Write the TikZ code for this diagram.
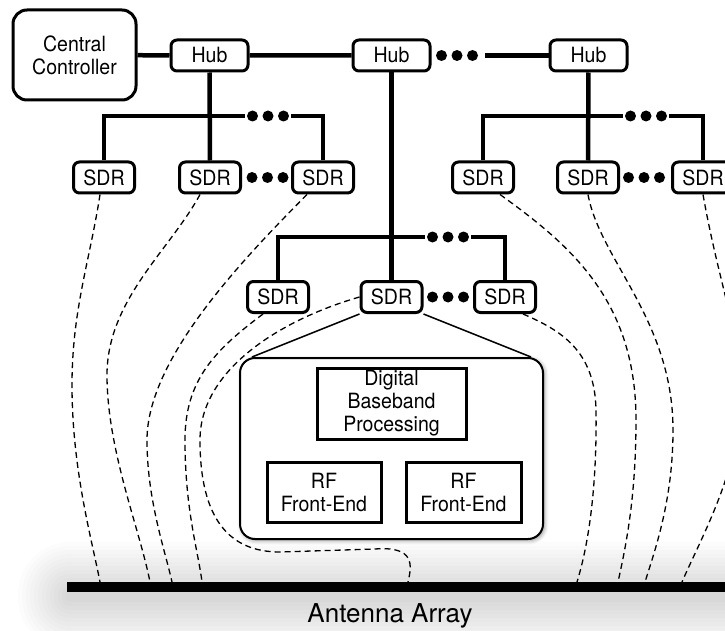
\documentclass[tikz,border=0pt]{standalone}
\usepackage{fontspec}
\setmainfont{TeX Gyre Heros}
\newfontfamily\boxfont[FakeStretch=0.93]{TeX Gyre Heros}
\usepackage{tikz}
\usetikzlibrary{positioning, shadows.blur}

\begin{document}
\begin{tikzpicture}[x=1pt, y=-1pt,
  % align=center so that \\ breaks lines inside the boxes
  ctrlbox/.style={rectangle, draw, line width=3pt, rounded corners=14pt, fill=white,
                  minimum width=123pt, minimum height=90pt, inner sep=0pt,
                  align=center, font=\boxfont\fontsize{21}{23}\selectfont},
  unitbox/.style={rectangle, draw, line width=3pt, rounded corners=6pt, fill=white,
                  minimum width=#1, minimum height=31pt, inner sep=0pt,
                  align=center, font=\boxfont\fontsize{21}{23}\selectfont},
  detailbox/.style={rectangle, draw, line width=2pt, rounded corners=15pt, fill=white,
                    minimum width=303pt, minimum height=181pt,
                    blur shadow={shadow xshift=1.5pt, shadow yshift=-1.5pt,
                                 shadow blur radius=4pt, shadow opacity=45}},
  blockbox/.style={rectangle, draw, line width=3pt, fill=white, inner sep=0pt,
                   minimum width=#1, align=center, font=\boxfont\fontsize{21}{23}\selectfont},
  ellip/.style={minimum width=#1, minimum height=12pt, inner sep=0pt,
                path picture={\fill ([xshift=-15.5pt]path picture bounding box.center) circle (5.5pt)
                                    (path picture bounding box.center) circle (5.5pt)
                                    ([xshift=15.5pt]path picture bounding box.center) circle (5.5pt);}},
  ellip/.default=46pt,
  bus/.style={line width=4.5pt},
  link/.style={line width=1.5pt},
  feed/.style={line width=1.3pt, dash pattern=on 6pt off 4pt}
]
\useasboundingbox (0,0) rectangle (725,631);

% soft halo under the antenna array
\foreach \r in {4,8,...,52}
  \fill[black, opacity=0.011, rounded corners=\r pt] (70-\r,594-\r) rectangle (800,598+\r);

% Top row - controller and hubs
\node[ctrlbox] (cc) at (74.5,55) {Central\\Controller};
\node[unitbox=77pt] (hubA) at (209.5,55.5) {Hub};
\node[unitbox=77pt] (hubB) at (391.5,55.5) {Hub};
\node[ellip=56pt]   (dTop) at (457,55.5) {};
\node[unitbox=77pt] (hubC) at (588.5,55.5) {Hub};

% Left group
\node[unitbox=61pt] (sdrA1) at (104,177.5) {SDR};
\node[unitbox=61pt] (sdrA2) at (210,177.5) {SDR};
\node[ellip]        (dA2)   at (267.5,177.5) {};
\node[unitbox=61pt] (sdrA3) at (323,177.5) {SDR};
\node[ellip]        (dA1)   at (268,116) {};

% Right group
\node[unitbox=61pt] (sdrC1) at (483,177.5) {SDR};
\node[unitbox=61pt] (sdrC2) at (588,177.5) {SDR};
\node[ellip]        (dC2)   at (644,177.5) {};
\node[unitbox=61pt] (sdrC3) at (703,177.5) {SDR};
\node[ellip]        (dC1)   at (646,116) {};

% Middle group
\node[unitbox=61pt] (sdrB1) at (278,297) {SDR};
\node[unitbox=61pt] (sdrB2) at (391.5,297) {SDR};
\node[ellip]        (dB2)   at (448,297) {};
\node[unitbox=61pt] (sdrB3) at (505,297) {SDR};
\node[ellip]        (dB1)   at (448,237) {};

% Inside one SDR
\node[detailbox] (detail) at (391.5,448.5) {};
\node[blockbox=149pt, minimum height=71pt] (dbp) at (391.5,403.5) {Digital\\Baseband\\Processing};
\node[blockbox=114pt, minimum height=60pt] (rfA) at (324,492) {RF\\Front-End};
\node[blockbox=115pt, minimum height=60pt] (rfB) at (463.5,492) {RF\\Front-End};
\draw[link] (sdrB2.south west) -- ([xshift=13pt]detail.north west);
\draw[link] (sdrB2.south east) -- ([xshift=-13pt]detail.north east);

% Antenna array
\node[rectangle, fill=black, minimum width=700pt, minimum height=10pt, inner sep=0pt] (array) at (417,587) {};
\node[anchor=base, font=\fontsize{26}{30}\selectfont] (arraylbl) at (390,622) {Antenna Array};
\coordinate (a1) at (100,582);
\coordinate (a2) at (150,582);
\coordinate (a3) at (172,582);
\coordinate (a4) at (202,582);
\coordinate (a5) at (408,582);
\coordinate (a6) at (577,582);
\coordinate (a7) at (618,582);
\coordinate (a8) at (645,582);
\coordinate (a9) at (682,582);

% Backbone
\draw[bus] (cc) -- (hubA) -- (hubB);
\draw[bus] (dTop) -- (hubC);
\draw[bus] (hubA) -- (sdrA2);
\draw[bus] (sdrA1) |- (dA1);
\draw[bus] (dA1) -| (sdrA3);
\draw[bus] (hubC) -- (sdrC2);
\draw[bus] (sdrC1) |- (dC1);
\draw[bus] (dC1) -| (sdrC3);
\draw[bus] (hubB) -- (sdrB2);
\draw[bus] (sdrB1) |- (dB1);
\draw[bus] (dB1) -| (sdrB3);

% RF feeds to the array
\draw[feed] ([xshift=-4pt]sdrA1.south) .. controls (90,260) and (72,310) .. (72,385)
            .. controls (72,470) and (92,540) .. (a1);
\draw[feed] ([xshift=-10pt]sdrA2.south) .. controls (170,250) and (107,300) .. (107,375)
            .. controls (107,450) and (140,530) .. (a2);
\draw[feed] ([xshift=-16pt]sdrA3.south) .. controls (240,262) and (147,360) .. (147,440)
            .. controls (147,500) and (165,550) .. (a3);
\draw[feed] ([xshift=-15pt]sdrB1.south) .. controls (215,350) and (185,380) .. (185,440)
            .. controls (185,510) and (198,550) .. (a4);
\draw[feed] (sdrB2.west) .. controls (280,320) and (200,370) .. (200,440)
            .. controls (200,520) and (230,552) .. (280,552) -- (375,549)
            .. controls (415,546) and (412,565) .. (a5);
\draw[feed] ([xshift=18pt]sdrB3.south) .. controls (560,330) and (595,350) .. (596,410)
            .. controls (597,480) and (590,540) .. (a6);
\draw[feed] ([xshift=17pt]sdrC1.south) .. controls (570,245) and (636,300) .. (636,420)
            .. controls (636,500) and (625,550) .. (a7);
\draw[feed] (sdrC2.south) .. controls (600,260) and (673,320) .. (673,430)
            .. controls (673,500) and (655,550) .. (a8);
\draw[feed] (sdrC3.south) .. controls (720,290) and (740,330) .. (740,400)
            .. controls (740,470) and (700,540) .. (a9);

\end{tikzpicture}
\end{document}
